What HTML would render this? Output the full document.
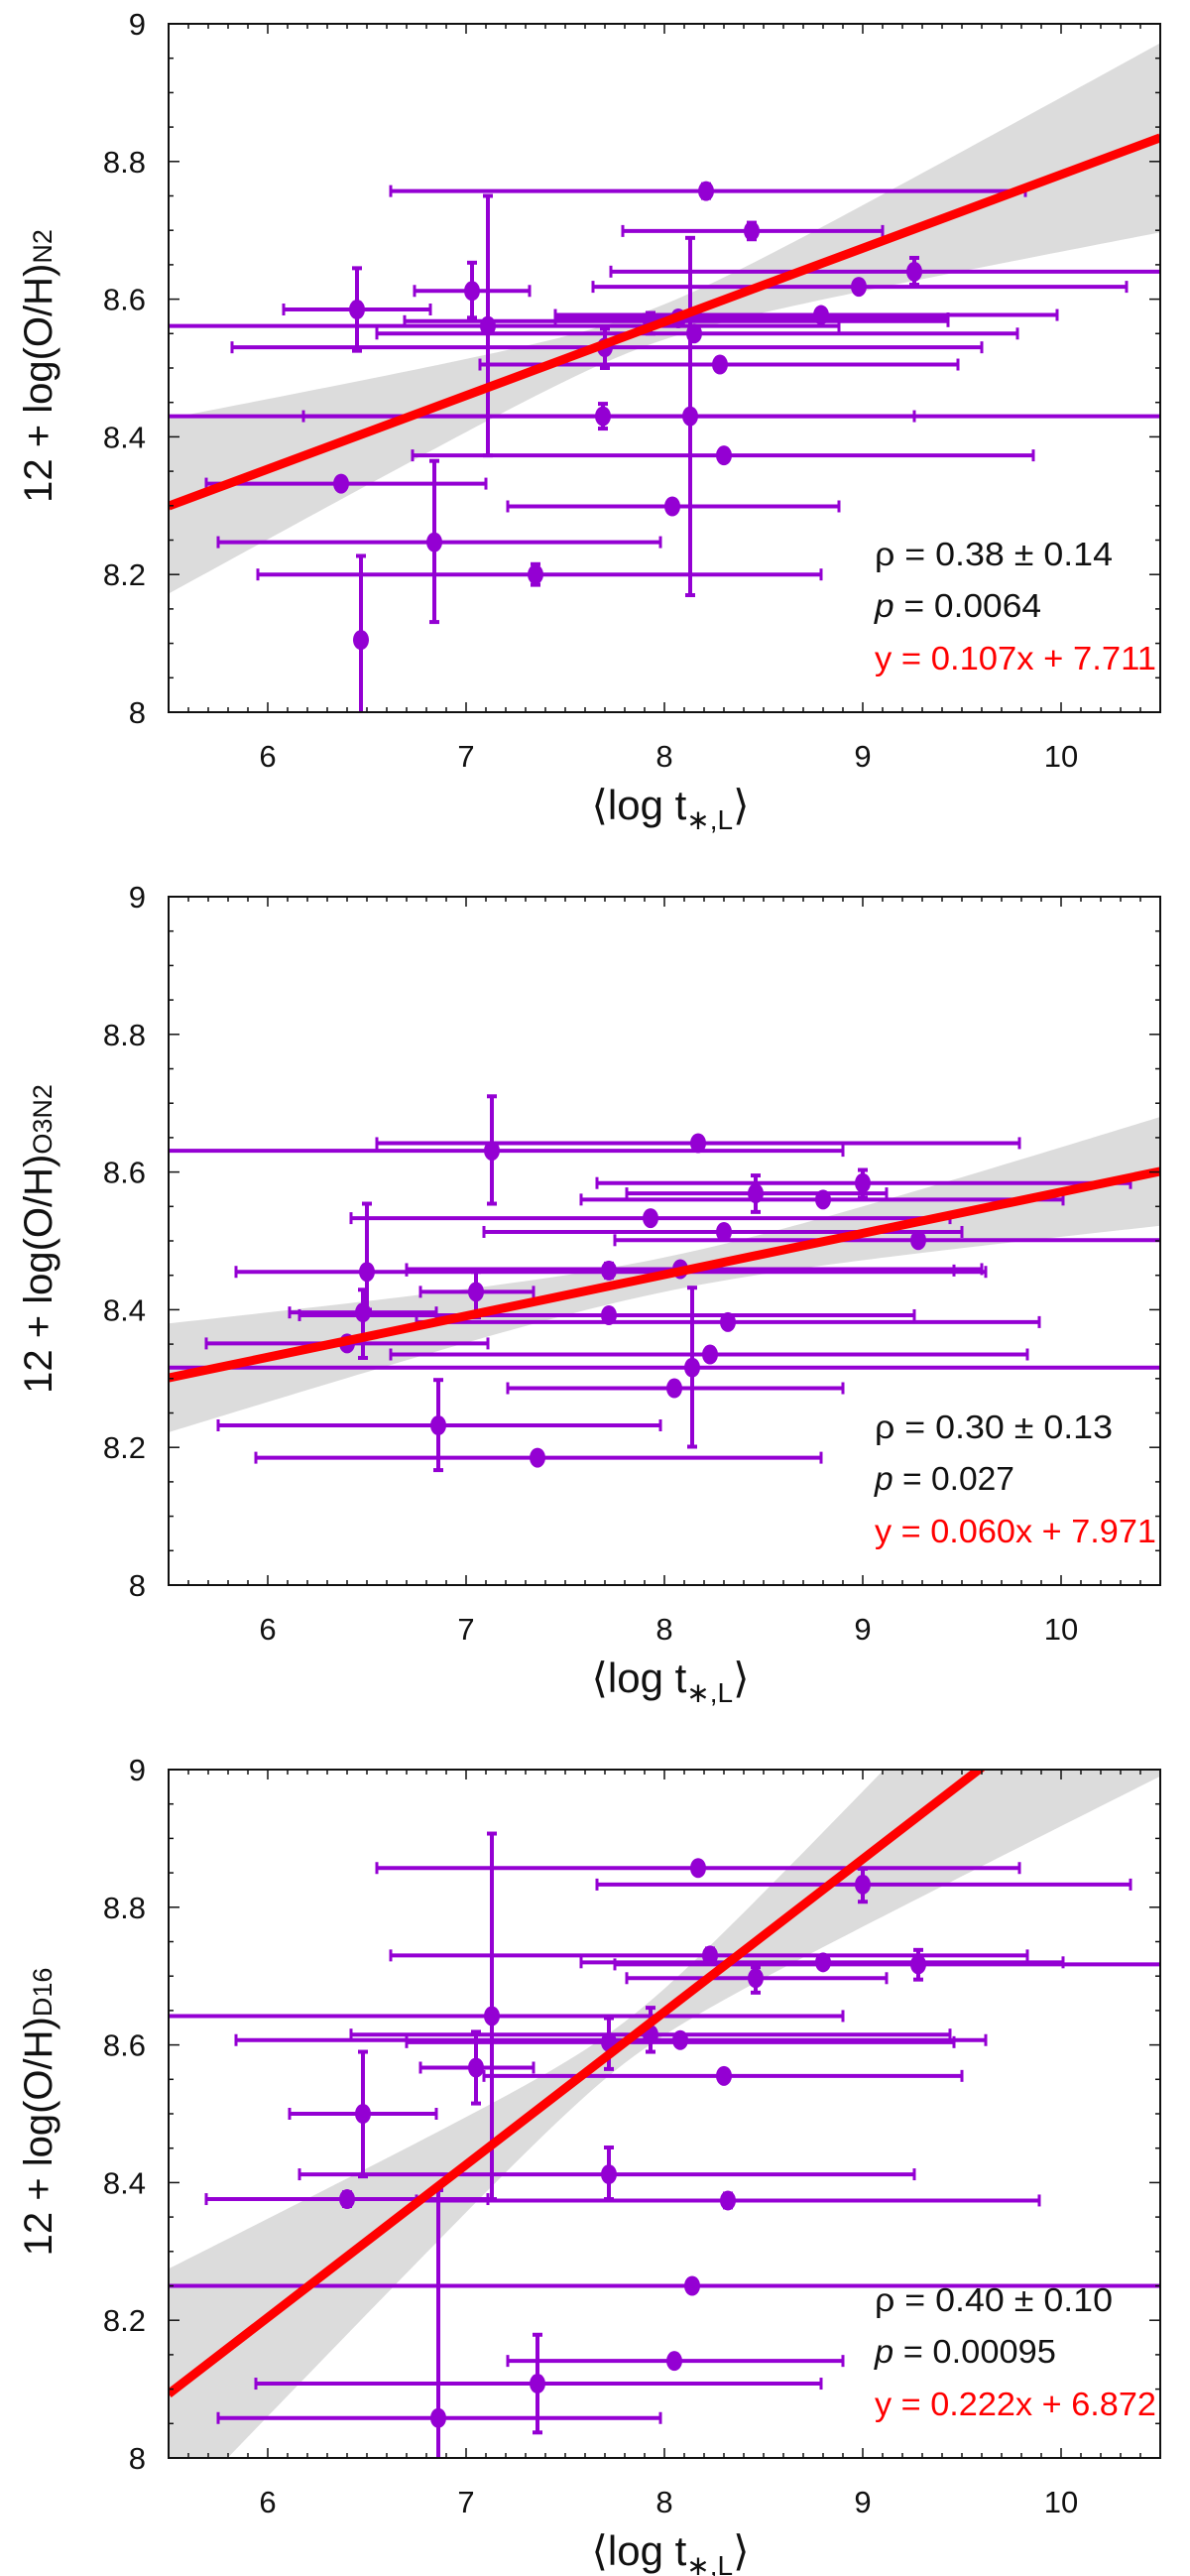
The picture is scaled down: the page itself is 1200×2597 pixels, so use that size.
<!DOCTYPE html>
<html><head><meta charset="utf-8"><style>
body{margin:0;background:#fff}
svg{display:block;font-family:"Liberation Sans",sans-serif}
</style></head><body>
<svg id="chart" width="1200" height="2597" viewBox="0 0 1200 2597" xmlns="http://www.w3.org/2000/svg">
<defs><clipPath id="clip"><rect x="170" y="24" width="1000" height="694"/></clipPath></defs>
</svg>
<script>
// Panel 1 (N2): x, xlo, xhi, y, ylo, yhi
const p1x   =[8.21,8.44,9.26,8.98,7.03,6.45,7.11,7.93,8.07,8.15,7.70,8.79,8.28,7.69,8.13,8.30,6.37,8.04,6.84,7.35,6.47];
const p1xlo =[6.62,7.79,7.73,7.64,6.74,6.08,5.00,6.69,7.45,6.55,5.82,7.45,7.07,4.50,6.18,6.73,5.69,7.21,5.75,5.95,6.47];
const p1xhi =[9.82,9.10,10.6,10.33,7.32,6.82,8.88,9.43,9.43,9.78,9.60,9.98,9.48,11.0,9.26,9.86,7.10,8.88,7.98,8.79,6.47];
const p1y   =[8.757,8.699,8.640,8.618,8.612,8.585,8.561,8.568,8.572,8.550,8.530,8.577,8.505,8.430,8.430,8.373,8.332,8.299,8.247,8.200,8.105];
const p1ylo =[8.747,8.687,8.621,8.610,8.573,8.525,8.373,8.550,8.565,8.545,8.500,8.570,8.500,8.412,8.170,8.367,8.326,8.293,8.131,8.185,7.900];
const p1yhi =[8.767,8.711,8.660,8.626,8.653,8.645,8.750,8.580,8.579,8.555,8.557,8.584,8.510,8.448,8.689,8.379,8.338,8.305,8.365,8.215,8.227];
const p1fit =[0.107,7.711]; const p1band=[7.9,0.025,0.052];
// Panel 2 (O3N2)
const p2x   =[8.17,7.13,9.00,8.46,8.80,7.93,8.30,9.28,6.50,7.72,8.08,7.05,6.48,7.72,8.32,6.40,8.23,8.14,8.05,6.86,7.36];
const p2xlo =[6.55,5.00,7.66,7.81,7.58,6.42,7.09,7.75,5.84,6.70,6.70,6.77,6.11,6.16,6.75,5.69,6.62,4.50,7.21,5.75,5.94];
const p2xhi =[9.79,8.90,10.35,9.12,10.01,9.44,9.50,10.6,9.62,9.46,9.60,7.34,6.85,9.26,9.89,7.11,9.83,11.0,8.90,7.98,8.79];
const p2y   =[8.642,8.631,8.584,8.569,8.560,8.533,8.513,8.501,8.455,8.457,8.459,8.426,8.396,8.392,8.382,8.351,8.335,8.316,8.286,8.232,8.185];
const p2ylo =[8.636,8.554,8.563,8.542,8.555,8.528,8.508,8.496,8.400,8.447,8.454,8.389,8.330,8.385,8.377,8.346,8.330,8.201,8.281,8.167,8.178];
const p2yhi =[8.648,8.710,8.603,8.595,8.565,8.538,8.518,8.506,8.554,8.467,8.464,8.455,8.429,8.399,8.387,8.356,8.340,8.432,8.291,8.298,8.192];
const p2fit =[0.060,7.971]; const p2band=[8.0,0.025,0.030];
// Panel 3 (D16)
const p3x   =[8.17,9.00,7.13,8.23,8.80,9.28,8.46,7.72,7.93,8.08,7.05,8.30,6.48,7.72,6.40,8.32,8.14,8.05,7.36,6.86];
const p3xlo =[6.55,7.66,5.00,6.62,7.58,7.75,7.81,6.70,6.42,5.84,6.77,7.09,6.11,6.16,5.69,6.75,4.50,7.21,5.94,5.75];
const p3xhi =[9.79,10.35,8.90,9.83,10.01,10.6,9.12,9.46,9.44,9.62,7.34,9.50,6.85,9.26,7.11,9.89,11.0,8.90,8.79,7.98];
const p3y   =[8.857,8.833,8.642,8.730,8.720,8.717,8.697,8.604,8.615,8.607,8.567,8.555,8.500,8.412,8.376,8.374,8.250,8.141,8.108,8.058];
const p3ylo =[8.851,8.808,8.376,8.720,8.715,8.695,8.676,8.565,8.590,8.602,8.515,8.550,8.409,8.376,8.366,8.364,8.245,8.136,8.037,7.900];
const p3yhi =[8.863,8.856,8.907,8.740,8.725,8.738,8.713,8.639,8.654,8.612,8.619,8.560,8.590,8.451,8.386,8.384,8.255,8.146,8.179,8.389];
const p3fit =[0.222,6.872]; const p3band=[7.8,0.03,0.078];

const xTicks=[6,7,8,9,10];
const yTicks=[8,8.2,8.4,8.6,8.8,9];
const yTickLabels=["8","8.2","8.4","8.6","8.8","9"];
const panelSubs=["N2","O3N2","D16"];
const panelStats=[["0.38 ± 0.14","0.0064","y = 0.107x + 7.711"],["0.30 ± 0.13","0.027","y = 0.060x + 7.971"],["0.40 ± 0.10","0.00095","y = 0.222x + 6.872"]];

const NS="http://www.w3.org/2000/svg";
const svg=document.getElementById('chart');
const L=170,R=1170,T=24,B=718;
function mk(tag,attrs,parent){const e=document.createElementNS(NS,tag);for(const k in attrs)e.setAttribute(k,attrs[k]);parent.appendChild(e);return e;}
const PURPLE="#9400D3";

function drawPanel(i,off,xs,xlo,xhi,ys,ylo,yhi,fit,band){
  const sx=v=>L+(v-5.5)*200;
  const sy=v=>B-(v-8)*694;
  const g=mk('g',{transform:'translate(0,'+off+')'},svg);
  
  
  const pg=mk('g',{'clip-path':'url(#clip)'},g);
  let up=[],dn=[];
  for(let k=0;k<=100;k++){const x=5.5+5*k/100;const f=fit[0]*x+fit[1];const h=Math.sqrt(band[1]*band[1]+band[2]*band[2]*(x-band[0])*(x-band[0]));up.push(sx(x)+','+sy(f+h));dn.unshift(sx(x)+','+sy(f-h));}
  const bp=mk('polygon',{points:up.concat(dn).join(' '),fill:'#dcdcdc'},pg);
  
  
  for(let k=0;k<xs.length;k++){
    const eg=mk('g',{stroke:PURPLE,'stroke-width':4,fill:PURPLE},pg);
    
    
    const cy=sy(ys[k]),cx=sx(xs[k]);
    mk('line',{x1:sx(xlo[k]),x2:sx(xhi[k]),y1:cy,y2:cy},eg);
    mk('line',{x1:sx(xlo[k]),x2:sx(xlo[k]),y1:cy-6,y2:cy+6,'stroke-width':3},eg);
    mk('line',{x1:sx(xhi[k]),x2:sx(xhi[k]),y1:cy-6,y2:cy+6,'stroke-width':3},eg);
    mk('line',{x1:cx,x2:cx,y1:sy(ylo[k]),y2:sy(yhi[k])},eg);
    mk('line',{x1:cx-5,x2:cx+5,y1:sy(ylo[k]),y2:sy(ylo[k]),'stroke-width':4},eg);
    mk('line',{x1:cx-5,x2:cx+5,y1:sy(yhi[k]),y2:sy(yhi[k]),'stroke-width':4},eg);
    mk('ellipse',{cx:cx,cy:cy,rx:8,ry:10,stroke:'none'},eg);
  }
  const fl=mk('line',{x1:sx(5.5),y1:sy(fit[0]*5.5+fit[1]),x2:sx(10.5),y2:sy(fit[0]*10.5+fit[1]),stroke:'#ff0000','stroke-width':9},pg);
  
  
  const fr=mk('rect',{x:L,y:T,width:R-L,height:B-T,fill:'none',stroke:'#111','stroke-width':2},g);
  
  
  const tg=mk('g',{stroke:'#111','stroke-width':1.5},g);
  for(let v=55;v<=105;v++){const x=sx(v/10);const len=(v%10===0)?10:5;
    mk('line',{x1:x,x2:x,y1:B,y2:B-len},tg);mk('line',{x1:x,x2:x,y1:T,y2:T+len},tg);}
  for(let v=0;v<=20;v++){const y=sy(8+v*0.05);const len=(v%4===0)?11:5;
    mk('line',{x1:L,x2:L+len,y1:y,y2:y},tg);mk('line',{x1:R,x2:R-len,y1:y,y2:y},tg);}
  xTicks.forEach(v=>{const t=mk('text',{x:sx(v),y:B+55,'font-size':31,'text-anchor':'middle',fill:'#111'},g);t.textContent=String(v);
    
    });
  yTicks.forEach((v,j)=>{const t=mk('text',{x:147,y:sy(v)+11,'font-size':31,'text-anchor':'end',fill:'#111'},g);t.textContent=yTickLabels[j];
    
    });
  const xt=mk('text',{x:676,y:B+108,'font-size':42,'text-anchor':'middle',fill:'#111'},g);
  
  
  xt.innerHTML='⟨log t<tspan font-size="28" dy="10">∗,L</tspan><tspan dy="-10">⟩</tspan>';
  const yt=mk('text',{transform:'translate(52,'+(T+345)+') rotate(-90)','font-size':40,'text-anchor':'middle',fill:'#111'},g);
  
  
  yt.innerHTML='12 + log(O/H)<tspan font-size="27">'+panelSubs[i]+'</tspan>';
  const s=panelStats[i];
  const a=mk('text',{x:882,y:T+546,'font-size':33,fill:'#111',textLength:(i===0?240:240),lengthAdjust:'spacingAndGlyphs'},g);a.textContent='ρ = '+s[0];
  
  
  const b=mk('text',{x:882,y:T+598,'font-size':33,fill:'#111',textLength:(i===0?168:(i===1?141:183)),lengthAdjust:'spacingAndGlyphs'},g);b.innerHTML='<tspan font-style="italic">p</tspan> = '+s[1];
  
  
  const c=mk('text',{x:882,y:T+651,'font-size':33,fill:'#ff0000',textLength:284,lengthAdjust:'spacingAndGlyphs'},g);c.textContent=s[2];
  
  
}
drawPanel(0,0,p1x,p1xlo,p1xhi,p1y,p1ylo,p1yhi,p1fit,p1band);
drawPanel(1,880,p2x,p2xlo,p2xhi,p2y,p2ylo,p2yhi,p2fit,p2band);
drawPanel(2,1760,p3x,p3xlo,p3xhi,p3y,p3ylo,p3yhi,p3fit,p3band);
</script>
</body></html>
